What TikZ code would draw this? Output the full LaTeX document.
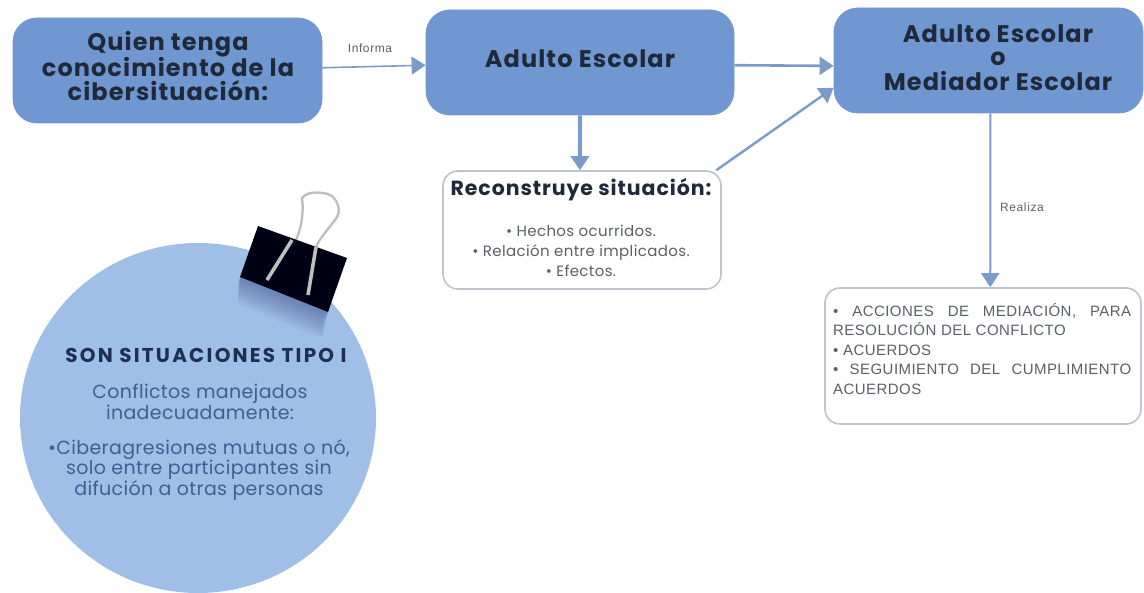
\documentclass[tikz,border=0pt]{standalone}
\usepackage{fontspec}
\setmainfont{Poppins}
\newfontfamily\wfont[LetterSpace=4.5]{Poppins}
\newfontfamily\wfontb[LetterSpace=11]{Poppins}
\newfontfamily\bodyfont[LetterSpace=1.8]{Poppins}
\newfontfamily\bodyfontw[LetterSpace=2.5]{Poppins}
\newfontfamily\armow[LetterSpace=3]{Liberation Sans}
\newfontfamily\armot[LetterSpace=5]{Liberation Sans}
\usetikzlibrary{arrows.meta}
\definecolor{boxblue}{HTML}{7097D2}
\definecolor{edgeblue}{HTML}{7B9CCB}
\definecolor{circleblue}{HTML}{A0BFE7}
\definecolor{boxline}{HTML}{BCC5CF}
\definecolor{darktext}{HTML}{20293A}
\definecolor{circtitle}{HTML}{1F2F52}
\definecolor{circtext}{HTML}{3F5E92}
\definecolor{greytext}{HTML}{5A6068}
\tikzset{
  bluebox/.style={fill=boxblue,draw=boxblue,line width=.8pt,rounded corners=24pt,inner sep=0pt},
  boxtitle/.style={align=center,text=darktext,inner sep=0pt,font=\wfont\bfseries\fontsize{24}{24}\selectfont},
  whitebox/.style={fill=white,draw=boxline,line width=1.6pt,rounded corners=15pt,inner sep=0pt},
  conn/.style={draw=edgeblue,-{Triangle[width=18pt,length=14pt]}},
  tag/.style={font=\armot\fontsize{12}{12}\selectfont,text=greytext,inner sep=0pt}
}
\begin{document}
\begin{tikzpicture}[x=1pt,y=-1pt]
\useasboundingbox (0,0) rectangle (1144,593);
% circle
\node[circle,fill=circleblue,minimum size=350pt,inner sep=0pt,xscale=1.017] (circ) at (198,418) {};
% shadow of the clip on the circle
\begin{scope}
\clip (198,418) ellipse [x radius=178,y radius=175];
\foreach \o in {3,6,...,27}{
  \fill[black!70!blue,opacity=.035] (240,277) -- (328,312) -- (322,312+\o) -- (238,277+\o) -- cycle;
}
\end{scope}
\node[font=\wfontb\bfseries\fontsize{20}{20}\selectfont,text=circtitle,inner sep=0pt] (circt) at (206,355) {SON SITUACIONES TIPO I};
\node[align=center,font=\bodyfont\fontsize{19}{19}\selectfont,text=circtext,inner sep=0pt] (circb) at (200,402) {Conflictos manejados\\inadecuadamente:};
\node[align=center,font=\bodyfont\fontsize{19}{18}\selectfont,text=circtext,inner sep=0pt] (circc) at (199,470) {•Ciberagresiones mutuas o nó,\\solo entre participantes sin\\difución a otras personas};
% binder clip
\draw[line width=2.4pt,draw=black!25,line join=round] (296,240) .. controls (304,222) and (303,205) .. (302,198) .. controls (308,190) and (326,192) .. (332,196) .. controls (341,205) and (340,214) .. (335,220) .. controls (326,232) and (318,240) .. (316,248);
\fill[black!92!blue] (258,226) -- (347,258) -- (328,312) -- (240,277) -- cycle;
\draw[line width=3.6pt,draw=black!25] (267,280) -- (292,240);
\draw[line width=3.6pt,draw=black!25] (308,295) -- (316,247);
% main boxes
\node[bluebox,minimum width=309pt,minimum height=105pt] (a) at (167.5,70.5) {};
\node[boxtitle] (at) at (168,66) {Quien tenga\\conocimiento de la\\cibersituación:};
\node[bluebox,minimum width=308pt,minimum height=105pt] (b) at (580,62.5) {};
\node[boxtitle] (bt) at (580,59) {Adulto Escolar};
\node[bluebox,minimum width=309pt,minimum height=105pt] (c) at (988.5,60.5) {};
\node[boxtitle] (ct) at (998,58) {Adulto Escolar\\[-1pt]o\\[1pt]Mediador Escolar};
\node[whitebox,minimum width=278pt,minimum height=118pt] (d) at (582,230) {};
\node[font=\wfont\bfseries\fontsize{20.5}{20}\selectfont,text=darktext,inner sep=0pt] (dt) at (581,190) {Reconstruye situación:};
\node[align=center,font=\bodyfontw\fontsize{15}{20}\selectfont,text=greytext,inner sep=0pt] (db) at (581,251) {• Hechos ocurridos.\\• Relación entre implicados.\\• Efectos.};
\node[whitebox,minimum width=316pt,minimum height=136pt] (e) at (983,356) {};
\node[text width=298pt,align=justify,font=\armow\fontsize{15}{19.5}\selectfont,text=greytext,inner sep=0pt,anchor=north west] (et) at (833,303) {• ACCIONES DE MEDIACIÓN, PARA\linebreak RESOLUCIÓN DEL CONFLICTO\\ • ACUERDOS\\ • SEGUIMIENTO DEL CUMPLIMIENTO\linebreak ACUERDOS};
% connectors
\draw[conn,line width=1.6pt] (a.1.67) -- (b.181.3);
\draw[conn,line width=2.6pt] (b.-1.67) -- (c.182.4);
\draw[conn,line width=4pt] (b.270) -- (d.92);
\draw[conn,line width=2.4pt] (d.24.7) -- (c.190.1);
\draw[conn,line width=2pt] (c.-88.4) -- (e.84);
\node[tag] (l1) at (370,48.5) {Informa};
\node[tag] (l2) at (1022,207) {Realiza};
\end{tikzpicture}
\end{document}
